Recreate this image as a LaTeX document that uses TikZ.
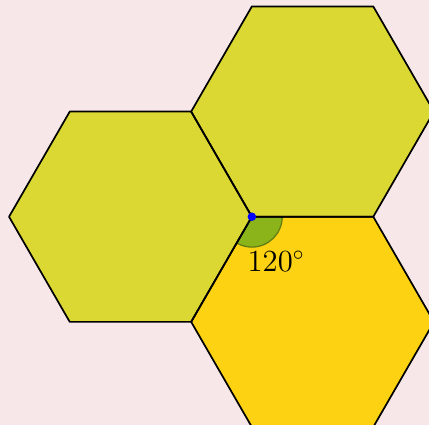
\documentclass[tikz,border=0pt]{standalone}
\usetikzlibrary{calc}

\definecolor{bgpink}{RGB}{248,231,232}
\definecolor{hexolive}{RGB}{219,216,51}
\definecolor{hexgold}{RGB}{252,210,18}
\definecolor{anggreen}{RGB}{138,180,26}

\begin{document}
\begin{tikzpicture}[
  hexfill/.style={fill=#1},
  hexline/.style={draw=black, thick, line join=round},
  angwedge/.style={fill=anggreen, draw=anggreen!70!black, line width=0.6pt},
  anglabel/.style={font=\Large}
]

% background and frame
\fill[bgpink] (-4.149,-3.43) rectangle (2.918,3.570);
\useasboundingbox (-4.149,-3.43) rectangle (2.918,3.570);

\coordinate (O) at (0,0);
\coordinate (cl) at (-2,0);
\coordinate (ct) at (1,1.732);
\coordinate (cb) at (1,-1.732);

% hexagons
\foreach \c/\col in {cl/hexolive, ct/hexolive, cb/hexgold}
  \fill[hexfill=\col] (\c) ++(0:2) -- ++(120:2) -- ++(180:2) -- ++(240:2)
    -- ++(300:2) -- ++(0:2) -- cycle;

% angle
\filldraw[angwedge] (O) -- ++(0:0.5) arc (0:-120:0.5) -- cycle;

\foreach \c in {cl, ct, cb}
  \draw[hexline] (\c) ++(0:2) -- ++(120:2) -- ++(180:2) -- ++(240:2)
    -- ++(300:2) -- ++(0:2) -- cycle;

\fill[blue] (O) circle (0.07);
\node[anglabel] (ang) at (0.40,-0.74) {$120^\circ$};

\end{tikzpicture}
\end{document}
